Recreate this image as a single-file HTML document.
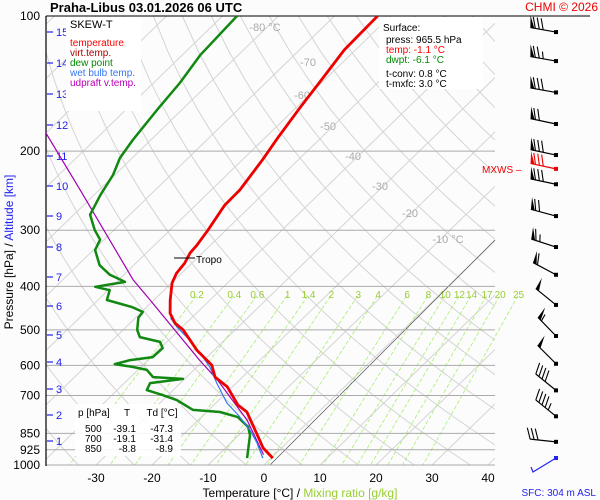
<!DOCTYPE html>
<html><head><meta charset="utf-8"><style>
body{margin:0;background:#fcfcfc;}
svg{display:block;font-family:"Liberation Sans",sans-serif;}
</style></head><body>
<svg id="c" width="600" height="500" viewBox="0 0 600 500">
<rect width="600" height="500" fill="#fcfcfc"/>
<defs><clipPath id="plot"><rect x="46" y="16" width="449" height="449"/></clipPath></defs>
<g id="bg" clip-path="url(#plot)"></g>
<g id="mix"></g>
<g id="grid"></g>
<g id="series" clip-path="url(#plot)"></g>
<g id="fg"></g>
</svg>
<script>
// ---- data ----
const tempP = [965,916,866,762,735,670,637,599,555,500,483,459,429,393,374,355,337,324,300,264,244,209,187,160,140,119,100];
const tempT = [0.3,-3.3,-6.2,-12.8,-15.7,-20.9,-24.9,-27.7,-33.1,-39.3,-42.0,-44.7,-47.1,-49.9,-50.9,-51.3,-52.2,-52.4,-53.2,-54.8,-54.9,-56.4,-57.7,-59.3,-60.5,-62.0,-62.3];
const dewP = [965,858,823,782,762,754,717,699,681,657,643,637,614,605,596,584,575,549,532,519,500,470,456,445,429,408,401,391,377,359,332,315,300,277,250,226,207,189,162,141,122,100];
const dewT = [-4.3,-8.0,-9.8,-13.5,-17.6,-22.8,-27.5,-30.9,-34.7,-35.4,-30.3,-36.0,-38.4,-41.4,-45.2,-43.2,-39.7,-39.6,-41.2,-45.7,-47.5,-49.5,-49.8,-52.6,-58.4,-59.7,-62.9,-58.5,-62.5,-66.1,-69.7,-70.7,-73.4,-77.1,-78.9,-80.3,-82.2,-83.2,-84.4,-85.3,-86.8,-87.4];
const wbP = [965,893,836,774,728,657,605,563,519,493,470];
const wbT = [-1.5,-5.3,-8.9,-13.8,-18.0,-23.5,-27.7,-32.0,-37.3,-40.9,-43.8];
const updP = [948,794,646,584,429,387,245,181];
const updT = [-2.0,-11.3,-24.0,-30.8,-50.7,-57.4,-83.2,-100.4];
const windP = [108.6,126,148,174,204,219,237,279,327,377,440,516,595,682,779,888];
const windDir = [280,280,280,282,282,282,282,285,288,298,309,316,315,309,309,276];
const windSpd = [80,75,80,70,80,80,80,70,65,60,50,55,50,40,45,30];
const pLevels = [100,200,300,400,500,600,700,850,925,1000];
const xTicks = [-30,-20,-10,0,10,20,30,40];
const mixW = [0.2,0.4,0.6,1,1.4,2,3,4,6,8,10,12,14,17,20,25];
const kmLabels = [15,14,13,12,11,10,9,8,7,6,5,4,3,2,1];
const kmY = [32,63,94,125,156,186,216,247,277,306,335,362,389,415,441];

// ---- axes ----
const Y=p=>16+195*Math.log(p/100);
const X=(T,p)=>264+5.6*T+1.03*(465-Y(p));
const NS='http://www.w3.org/2000/svg';
function el(tag,attrs,parent,txt){const e=document.createElementNS(NS,tag);for(const k in attrs)e.setAttribute(k,attrs[k]);if(txt!==undefined)e.textContent=txt;parent.appendChild(e);return e;}
const bg=document.getElementById('bg'),grid=document.getElementById('grid'),ser=document.getElementById('series'),fg=document.getElementById('fg'),mix=document.getElementById('mix');

for(let T=-140;T<=50;T+=10){
  const l=el('line',{x1:X(T,1000),y1:Y(1000),x2:X(T,100),y2:Y(100),stroke:'#d4d4d4','stroke-width':1},bg);
  
  
}
for(let th=230;th<=500;th+=10){
  let pts=[];for(let p=100;p<=1000;p+=20){const T=th*Math.pow(p/1000,0.286)-273.15;pts.push(X(T,p).toFixed(1)+','+Y(p).toFixed(1));}
  const l=el('polyline',{points:pts.join(' '),fill:'none',stroke:'#d4d4d4','stroke-width':1},bg);
  
  
}
function tdw(w,p){const e=w*p/(622+w);const a=Math.log(e/6.112);return 243.5*a/(17.67-a);}
mixW.forEach(w=>{
  const l=el('line',{x1:X(tdw(w,420),420),y1:Y(420),x2:X(tdw(w,1000),1000),y2:Y(1000),stroke:'#a8ee70','stroke-width':0.8,'stroke-dasharray':'4,2'},mix);
  
  
  const t=el('text',{x:X(tdw(w,418),418),y:298,'font-size':10,fill:'#99cc33','text-anchor':'middle'},mix,String(w));
  
  
});
el('line',{x1:X(0,1000)+6,y1:Y(1000),x2:495,y2:240,stroke:'#555','stroke-width':0.7,},grid);
pLevels.forEach(p=>{
  const y=Y(p);
  if(p===100){el('line',{x1:46,y1:y,x2:590,y2:y,stroke:'#000','stroke-width':1},grid);}
  else{const l=el('line',{x1:46,y1:y,x2:495,y2:y,stroke:'#aaa','stroke-width':1},grid);}
  const t=el('text',{x:40,y:y+4,'font-size':12,'text-anchor':'end',fill:'#000'},grid,String(p));
  
  
});
el('line',{x1:46,y1:16,x2:46,y2:466,stroke:'#000','stroke-width':1.2},grid);
kmLabels.forEach((k,i)=>{
  el('line',{x1:47,y1:kmY[i],x2:53,y2:kmY[i],stroke:'#22e','stroke-width':1.2},grid);
  const t=el('text',{x:56,y:kmY[i]+4,'font-size':11,fill:'#22e'},grid,String(k));
  
  
});
xTicks.forEach(T=>{
  const t=el('text',{x:X(T,1000),y:482,'font-size':12,'text-anchor':'middle'},grid,String(T));
  
  
});
[['-80 °C',265,31],['-70',308,66],['-60',302,99],['-50',328,130],['-40',353,160],['-30',380,190],['-20',410,217],['-10 °C',448,243]].forEach(a=>{
  el('text',{x:a[1],y:a[2],'font-size':11,fill:'#aaa','text-anchor':'middle',},grid,a[0]);
});

function line(P,T,color,w,name){
  const pts=P.map((p,i)=>X(T[i],p).toFixed(1)+','+Y(p).toFixed(1)).join(' ');
  const l=el('polyline',{points:pts,fill:'none',stroke:color,'stroke-width':w,'stroke-linejoin':'round'},ser);
  
  
}
line(updP,updT,'#a000b0',1.2,'updraft-line');
line(dewP,dewT,'#118811',2.5,'dewpoint-line');
line(wbP,wbT,'#3377ee',1.2,'wetbulb-line');
line(tempP,tempT,'#ee0000',2.8,'temperature-line');

windP.forEach((p,i)=>{
  const g=el('g',{},fg);
  
  
  const red=p===219, col=red?'#e00':'#000';
  const sx=556, sy=Y(p);
  const r=windDir[i]*Math.PI/180, ux=Math.sin(r), uy=-Math.cos(r);
  const L=26, ex=sx+ux*L, ey=sy+uy*L;
  el('line',{x1:sx,y1:sy,x2:ex,y2:ey,stroke:col,'stroke-width':1.2},g);
  el('rect',{x:sx-2,y:sy-2,width:4,height:4,fill:col},g);
  const px=-uy, py=ux;
  let s=windSpd[i], pos=0;
  while(s>=50){const ax=ex-ux*pos, ay=ey-uy*pos;el('polygon',{points:`${ax},${ay} ${ax+px*12+ux*2},${ay+py*12+uy*2} ${ax-ux*4},${ay-uy*4}`,fill:col},g);pos+=5;s-=50;}
  while(s>=10){const ax=ex-ux*pos, ay=ey-uy*pos;el('line',{x1:ax,y1:ay,x2:ax+px*11+ux*4,y2:ay+py*11+uy*4,stroke:col,'stroke-width':1.1},g);pos+=4;s-=10;}
  if(s>=5){const ax=ex-ux*pos, ay=ey-uy*pos;el('line',{x1:ax,y1:ay,x2:ax+px*7+ux*2,y2:ay+py*7+uy*2,stroke:col,'stroke-width':1.1},g);}
});
el('polyline',{points:'556,458 533,472 531,467',fill:'none',stroke:'#22e','stroke-width':1.2,},fg);
el('rect',{x:554,y:456,width:4,height:4,fill:'#22e'},fg);
</script>
<svg width="600" height="500" style="position:absolute;left:0;top:0" viewBox="0 0 600 500" font-family="Liberation Sans, sans-serif">
<text x="50" y="12" font-size="13" font-weight="bold">Praha-Libus    03.01.2026 06 UTC</text>
<text x="598" y="11" font-size="12" fill="#e00" text-anchor="end">CHMI © 2026</text>
<g>
<rect x="66" y="17" width="75" height="94" fill="#fff"/>
<text x="70" y="28" font-size="11">SKEW-T</text>
<text x="70" y="46" font-size="10" fill="#f00">temperature</text>
<text x="70" y="56" font-size="10" fill="#a00">virt.temp.</text>
<text x="70" y="66" font-size="10" fill="#080">dew point</text>
<text x="70" y="76" font-size="10" fill="#37e">wet bulb temp.</text>
<text x="70" y="86" font-size="10" fill="#b0b">udpraft v.temp.</text>
</g>
<g font-size="10">
<rect x="379" y="17" width="104" height="72" fill="#fff"/>
<text x="383" y="31">Surface:</text>
<text x="386" y="43">press: 965.5 hPa</text>
<text x="386" y="53" fill="#f00">temp: -1.1 °C</text>
<text x="386" y="63" fill="#080">dwpt: -6.1 °C</text>
<text x="386" y="77">t-conv: 0.8 °C</text>
<text x="386" y="87">t-mxfc: 3.0 °C</text>
</g>
<g font-size="10">
<rect x="75" y="404" width="106" height="52" fill="#fff" opacity="0.9"/>
<text x="78" y="416">p [hPa]</text><text x="127" y="416" text-anchor="middle">T</text><text x="162" y="416" text-anchor="middle">Td [°C]</text>
<text x="85" y="432">500</text><text x="136" y="432" text-anchor="end">-39.1</text><text x="173" y="432" text-anchor="end">-47.3</text>
<text x="85" y="442">700</text><text x="136" y="442" text-anchor="end">-19.1</text><text x="173" y="442" text-anchor="end">-31.4</text>
<text x="85" y="452">850</text><text x="136" y="452" text-anchor="end">-8.8</text><text x="173" y="452" text-anchor="end">-8.9</text>
</g>
<g>
<line x1="174" y1="258" x2="195" y2="258" stroke="#000"/>
<text x="196" y="263" font-size="10">Tropo</text>
</g>
<text x="482" y="173" font-size="10" fill="#e00">MXWS –</text>
<text transform="translate(13,252) rotate(-90)" font-size="12" text-anchor="middle">Pressure [hPa]  /  <tspan fill="#22e">Altitude [km]</tspan></text>
<text x="300" y="497" font-size="12" text-anchor="middle">Temperature [°C]  /  <tspan fill="#99cc33">Mixing ratio [g/kg]</tspan></text>
<text x="596" y="496" font-size="10" fill="#22e" text-anchor="end">SFC: 304 m ASL</text>
</svg>
</body></html>
